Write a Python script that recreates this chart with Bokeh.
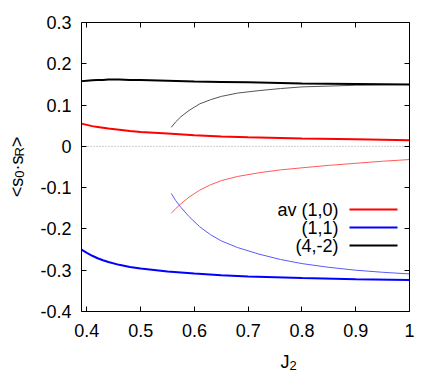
import math
from bokeh.plotting import figure
from bokeh.models import Range1d, LinearAxis, FixedTicker, Label
from bokeh.embed import file_html
from bokeh.resources import INLINE

# ---------------- data ----------------
j2_main = [0.39, 0.40, 0.41, 0.42, 0.43, 0.44, 0.46, 0.48, 0.50, 0.55, 0.60, 0.65, 0.70, 0.80, 0.90, 1.00]
av10_main = [0.055, 0.052, 0.049, 0.047, 0.045, 0.043, 0.040, 0.037, 0.035, 0.031, 0.027, 0.024, 0.022, 0.019, 0.017, 0.015]
s11_main = [-0.250, -0.258, -0.265, -0.271, -0.276, -0.280, -0.287, -0.292, -0.296, -0.303, -0.308, -0.312, -0.315, -0.319, -0.322, -0.324]
s42_main = [0.158, 0.159, 0.160, 0.161, 0.161, 0.162, 0.162, 0.161, 0.161, 0.159, 0.157, 0.156, 0.155, 0.152, 0.151, 0.150]

j2_thin = [0.557, 0.565, 0.575, 0.59, 0.61, 0.63, 0.65, 0.68, 0.72, 0.76, 0.80, 0.85, 0.90, 0.95, 1.00]
av10_thin = [-0.162, -0.151, -0.139, -0.123, -0.106, -0.093, -0.083, -0.073, -0.064, -0.057, -0.052, -0.046, -0.041, -0.036, -0.032]
s11_thin = [-0.114, -0.131, -0.148, -0.170, -0.195, -0.214, -0.229, -0.245, -0.261, -0.274, -0.284, -0.293, -0.300, -0.305, -0.309]
s42_thin = [0.046, 0.059, 0.072, 0.087, 0.103, 0.113, 0.121, 0.129, 0.135, 0.140, 0.144, 0.146, 0.148, 0.149, 0.150]

series_labels = ["av (1,0)", "(1,1)", "(4,-2)"]
series_colors = ["#ff0000", "#0000ff", "#000000"]
thin_colors = ["#ff5a5a", "#5a5aff", "#555555"]

x_ticks = [0.4, 0.5, 0.6, 0.7, 0.8, 0.9, 1.0]
x_tick_labels = ["0.4", "0.5", "0.6", "0.7", "0.8", "0.9", "1"]
y_ticks = [-0.4, -0.3, -0.2, -0.1, 0.0, 0.1, 0.2, 0.3]
y_tick_labels = ["-0.4", "-0.3", "-0.2", "-0.1", "0", "0.1", "0.2", "0.3"]

X0, X1 = 0.39, 1.0
Y0, Y1 = -0.4, 0.3

# ---------------- layout ----------------
W, H = 432, 377
BOX_L, BOX_R, BOX_T, BOX_B = 81, 409, 22, 311   # visible plot box in canvas px
FONT = "Liberation Sans"
FS = 18
SUB = 13

ux = (X1 - X0) / (BOX_R - BOX_L)
uy = (Y1 - Y0) / (BOX_B - BOX_T)
XS, XE = X0 - BOX_L * ux, X1 + (W - BOX_R) * ux
YE, YS = Y1 + BOX_T * uy, Y0 - (H - BOX_B) * uy

def px2x(px):
    return XS + px * ux

def py2y(py):
    return YE - py * uy

p = figure(width=W, height=H, output_backend="svg", toolbar_location=None,
           x_range=Range1d(XS, XE), y_range=Range1d(YS, YE),
           min_border=0, min_border_left=0, min_border_right=0,
           min_border_top=0, min_border_bottom=0,
           x_axis_type=None, y_axis_type=None)
p.grid.visible = False
p.outline_line_color = None
p.background_fill_color = "white"
p.border_fill_color = "white"

def make_axis(ticks, labels, loc, bounds, show):
    ax = LinearAxis(ticker=FixedTicker(ticks=ticks), fixed_location=loc, bounds=bounds)
    ax.major_label_overrides = {t: l for t, l in zip(ticks, labels)}
    ax.major_tick_in = 5
    ax.major_tick_out = 0
    ax.minor_tick_line_color = None
    ax.axis_line_color = "black"
    ax.axis_line_width = 1
    ax.major_tick_line_color = "black"
    ax.major_tick_line_width = 1
    ax.major_label_text_font = FONT
    if show:
        ax.major_label_text_font_size = f"{FS}px"
        ax.major_label_text_color = "black"
        ax.major_label_standoff = 10
    else:
        ax.major_label_text_font_size = "1px"
        ax.major_label_text_color = None
        ax.major_label_standoff = 0
    return ax

xb = make_axis(x_ticks, x_tick_labels, Y0, (X0, X1), True)
xb.major_label_standoff = 12
p.add_layout(xb, "below")
p.add_layout(make_axis(y_ticks, y_tick_labels, X0, (Y0, Y1), True), "left")
p.add_layout(make_axis(x_ticks, x_tick_labels, Y1, (X0, X1), False), "above")
p.add_layout(make_axis(y_ticks, y_tick_labels, X1, (Y0, Y1), False), "right")

# zero line
p.line([X0, X1], [0, 0], line_color="#9a9a9a", line_width=1, line_dash="1 2")

# thin curves
for ys, c in zip([av10_thin, s11_thin, s42_thin], thin_colors):
    p.line(j2_thin, ys, line_color=c, line_width=1)
# thick curves
for ys, c in zip([av10_main, s11_main, s42_main], series_colors):
    p.line(j2_main, ys, line_color=c, line_width=2)

# legend (label left, line right)
leg_text_right = 338
leg_line = (349, 397)
leg_rows = [209, 227, 245]
for lab, c, ry in zip(series_labels, series_colors, leg_rows):
    p.add_layout(Label(x=px2x(leg_text_right), y=py2y(ry), text=lab, text_align="right",
                       text_baseline="middle", text_font=FONT, text_font_size=f"{FS}px",
                       text_color="black"))
    p.segment(x0=[px2x(leg_line[0])], y0=[py2y(ry)], x1=[px2x(leg_line[1])], y1=[py2y(ry)],
              line_color=c, line_width=2)

# x axis label J_2
p.add_layout(Label(x=px2x(280), y=py2y(361), text="J", text_align="left",
                   text_baseline="alphabetic", text_font=FONT, text_font_size=f"{FS}px",
                   text_color="black"))
p.add_layout(Label(x=px2x(289), y=py2y(365), text="2", text_align="left",
                   text_baseline="alphabetic", text_font=FONT, text_font_size=f"{SUB}px",
                   text_color="black"))

# y axis label <s_0 . s_R>  (rotated, reading upward)
pieces = [("<s", FS, False), ("0", SUB, True), ("\u00b7s", FS, False), ("R", SUB, True), (">", FS, False)]
adv = {"<": 0.584, "s": 0.5, "0": 0.556, "\u00b7": 0.278, "R": 0.722, ">": 0.584}
total = sum(sum(adv[ch] for ch in t) * fs for t, fs, _ in pieces)
center_y = (BOX_T + BOX_B) / 2
cur = center_y + total / 2
base_x = 16
for t, fs, sub in pieces:
    bx = base_x + (3 if sub else 0)
    p.add_layout(Label(x=px2x(bx), y=py2y(cur), text=t, angle=math.pi / 2,
                       text_align="left", text_baseline="alphabetic",
                       text_font=FONT, text_font_size=f"{fs}px", text_color="black"))
    cur -= sum(adv[ch] for ch in t) * fs

open("out.html", "w").write(file_html(p, INLINE))
